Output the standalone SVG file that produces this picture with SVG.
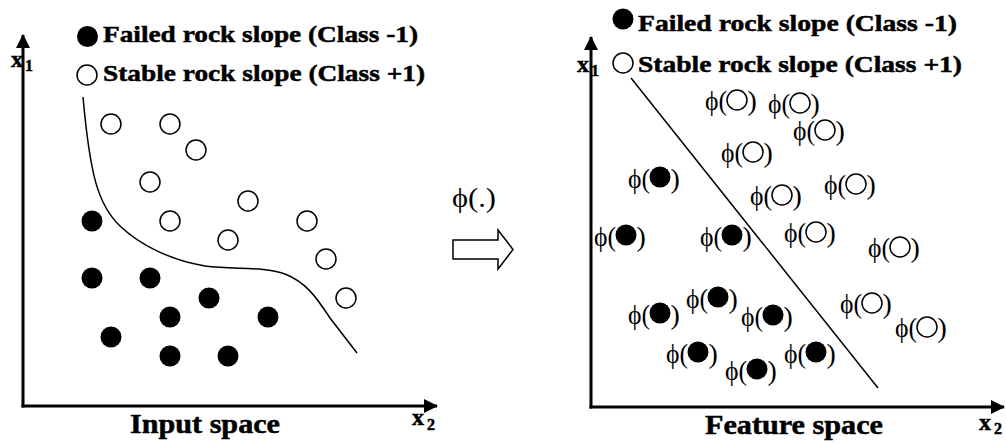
<svg xmlns="http://www.w3.org/2000/svg" width="1006" height="443" viewBox="0 0 1006 443">
<style>
.b{font-family:"Liberation Serif","Times New Roman",serif;font-weight:bold;fill:#000;stroke:#000;stroke-width:0.5}
.r{font-family:"Liberation Serif","DejaVu Serif",serif;font-size:28px;fill:#000}
.ax{stroke:#000;stroke-width:3;fill:none}
.ln{stroke:#000;stroke-width:1.5;fill:none}
.f{fill:#000}
.o{fill:#fff;stroke:#000;stroke-width:1.5}
</style>
<defs>
<marker id="ah" markerUnits="userSpaceOnUse" markerWidth="14" markerHeight="14" refX="13" refY="7" orient="auto">
<path d="M0,0 L14,7 L0,14 z" fill="#000"/>
</marker>
</defs>
<rect width="1006" height="443" fill="#fff"/>

<g id="left-panel">
<g id="left-axes">
<line class="ax" x1="23" y1="407.5" x2="23" y2="35" marker-end="url(#ah)"/>
<line class="ax" x1="21.5" y1="406" x2="437" y2="406" marker-end="url(#ah)"/>
<text class="b" x="11" y="67" font-size="24">x</text><text class="b" x="25" y="71" font-size="16">1</text>
<text class="b" x="412" y="425" font-size="24">x</text><text class="b" x="427" y="430" font-size="16">2</text>
<text class="b" x="130" y="433" font-size="27" textLength="150" lengthAdjust="spacingAndGlyphs">Input space</text>
</g>
<g id="left-legend">
<circle class="f" cx="87.5" cy="36.5" r="10.5"/>
<text class="b" x="103" y="42" font-size="24" textLength="315" lengthAdjust="spacingAndGlyphs">Failed rock slope (Class -1)</text>
<circle class="o" cx="87" cy="75" r="10"/>
<text class="b" x="103" y="81" font-size="24" textLength="322" lengthAdjust="spacingAndGlyphs">Stable rock slope (Class +1)</text>
</g>
<g id="left-stable">
<circle class="o" cx="111" cy="124" r="10"/>
<circle class="o" cx="170" cy="124" r="10"/>
<circle class="o" cx="196" cy="150" r="10"/>
<circle class="o" cx="150" cy="182" r="10"/>
<circle class="o" cx="170" cy="221" r="10"/>
<circle class="o" cx="248" cy="201" r="10"/>
<circle class="o" cx="228" cy="240" r="10"/>
<circle class="o" cx="307" cy="221" r="10"/>
<circle class="o" cx="326" cy="259" r="10"/>
<circle class="o" cx="346" cy="298" r="10"/>
</g>
<g id="left-failed">
<circle class="f" cx="92" cy="221" r="10.5"/>
<circle class="f" cx="92" cy="278" r="10.5"/>
<circle class="f" cx="150" cy="278" r="10.5"/>
<circle class="f" cx="209" cy="298" r="10.5"/>
<circle class="f" cx="170" cy="317" r="10.5"/>
<circle class="f" cx="268" cy="317" r="10.5"/>
<circle class="f" cx="111" cy="337" r="10.5"/>
<circle class="f" cx="170" cy="356" r="10.5"/>
<circle class="f" cx="228" cy="356" r="10.5"/>
</g>
<path id="left-boundary" class="ln" d="M83,97 C90,175 98,205 120,226 C140,245 170,260 205,266 C235,270 262,266 285,274 C305,282 315,295 330,318 L357,353"/>
</g>

<g id="mapping">
<text class="r" x="452" y="207" font-size="24" textLength="44" lengthAdjust="spacingAndGlyphs">ϕ(.)</text>
<polygon class="o" points="453,240 498,240 498,230 513,249.5 498,269 498,259 453,259"/>
</g>

<g id="right-panel">
<g id="right-axes">
<line class="ax" x1="591" y1="408.5" x2="591" y2="37" marker-end="url(#ah)"/>
<line class="ax" x1="589.5" y1="407" x2="1004" y2="407" marker-end="url(#ah)"/>
<text class="b" x="577" y="72" font-size="24">x</text><text class="b" x="591" y="76" font-size="16">1</text>
<text class="b" x="979" y="430" font-size="24">x</text><text class="b" x="994" y="434" font-size="16">2</text>
<text class="b" x="705" y="434" font-size="27" textLength="178" lengthAdjust="spacingAndGlyphs">Feature space</text>
</g>
<g id="right-legend">
<circle class="f" cx="623" cy="19" r="10.5"/>
<text class="b" x="638" y="30.5" font-size="24" textLength="319" lengthAdjust="spacingAndGlyphs">Failed rock slope (Class -1)</text>
<circle class="o" cx="623" cy="63" r="10"/>
<text class="b" x="638" y="71.5" font-size="24" textLength="324" lengthAdjust="spacingAndGlyphs">Stable rock slope (Class +1)</text>
</g>
<line id="right-boundary" class="ln" x1="631" y1="78" x2="878" y2="388"/>
<g id="right-stable">
<g><text class="r" x="705" y="110" textLength="22" lengthAdjust="spacingAndGlyphs">ϕ(</text><circle class="o" cx="737" cy="100" r="10"/><text class="r" x="747.5" y="110">)</text></g>
<g><text class="r" x="768" y="113" textLength="22" lengthAdjust="spacingAndGlyphs">ϕ(</text><circle class="o" cx="800" cy="103" r="10"/><text class="r" x="810.5" y="113">)</text></g>
<g><text class="r" x="793" y="140" textLength="22" lengthAdjust="spacingAndGlyphs">ϕ(</text><circle class="o" cx="825" cy="130" r="10"/><text class="r" x="835.5" y="140">)</text></g>
<g><text class="r" x="721" y="162" textLength="22" lengthAdjust="spacingAndGlyphs">ϕ(</text><circle class="o" cx="753" cy="152" r="10"/><text class="r" x="763.5" y="162">)</text></g>
<g><text class="r" x="750" y="205" textLength="22" lengthAdjust="spacingAndGlyphs">ϕ(</text><circle class="o" cx="782" cy="195" r="10"/><text class="r" x="792.5" y="205">)</text></g>
<g><text class="r" x="824" y="194" textLength="22" lengthAdjust="spacingAndGlyphs">ϕ(</text><circle class="o" cx="856" cy="184" r="10"/><text class="r" x="866.5" y="194">)</text></g>
<g><text class="r" x="784" y="242" textLength="22" lengthAdjust="spacingAndGlyphs">ϕ(</text><circle class="o" cx="816" cy="232" r="10"/><text class="r" x="826.5" y="242">)</text></g>
<g><text class="r" x="868" y="257" textLength="22" lengthAdjust="spacingAndGlyphs">ϕ(</text><circle class="o" cx="900" cy="247" r="10"/><text class="r" x="910.5" y="257">)</text></g>
<g><text class="r" x="840" y="313" textLength="22" lengthAdjust="spacingAndGlyphs">ϕ(</text><circle class="o" cx="872" cy="303" r="10"/><text class="r" x="882.5" y="313">)</text></g>
<g><text class="r" x="895" y="337" textLength="22" lengthAdjust="spacingAndGlyphs">ϕ(</text><circle class="o" cx="927" cy="327" r="10"/><text class="r" x="937.5" y="337">)</text></g>
</g>
<g id="right-failed">
<g><text class="r" x="628" y="188" textLength="22" lengthAdjust="spacingAndGlyphs">ϕ(</text><circle class="f" cx="660" cy="177" r="10.5"/><text class="r" x="670.5" y="188">)</text></g>
<g><text class="r" x="594" y="246" textLength="22" lengthAdjust="spacingAndGlyphs">ϕ(</text><circle class="f" cx="626" cy="235" r="10.5"/><text class="r" x="636.5" y="246">)</text></g>
<g><text class="r" x="700" y="246" textLength="22" lengthAdjust="spacingAndGlyphs">ϕ(</text><circle class="f" cx="732" cy="235" r="10.5"/><text class="r" x="742.5" y="246">)</text></g>
<g><text class="r" x="628" y="324" textLength="22" lengthAdjust="spacingAndGlyphs">ϕ(</text><circle class="f" cx="660" cy="313" r="10.5"/><text class="r" x="670.5" y="324">)</text></g>
<g><text class="r" x="686" y="308" textLength="22" lengthAdjust="spacingAndGlyphs">ϕ(</text><circle class="f" cx="718" cy="297" r="10.5"/><text class="r" x="728.5" y="308">)</text></g>
<g><text class="r" x="741" y="326" textLength="22" lengthAdjust="spacingAndGlyphs">ϕ(</text><circle class="f" cx="773" cy="315" r="10.5"/><text class="r" x="783.5" y="326">)</text></g>
<g><text class="r" x="666" y="363" textLength="22" lengthAdjust="spacingAndGlyphs">ϕ(</text><circle class="f" cx="698" cy="352" r="10.5"/><text class="r" x="708.5" y="363">)</text></g>
<g><text class="r" x="725" y="380" textLength="22" lengthAdjust="spacingAndGlyphs">ϕ(</text><circle class="f" cx="757" cy="369" r="10.5"/><text class="r" x="767.5" y="380">)</text></g>
<g><text class="r" x="784" y="363" textLength="22" lengthAdjust="spacingAndGlyphs">ϕ(</text><circle class="f" cx="816" cy="352" r="10.5"/><text class="r" x="826.5" y="363">)</text></g>
</g>
</g>
</svg>
